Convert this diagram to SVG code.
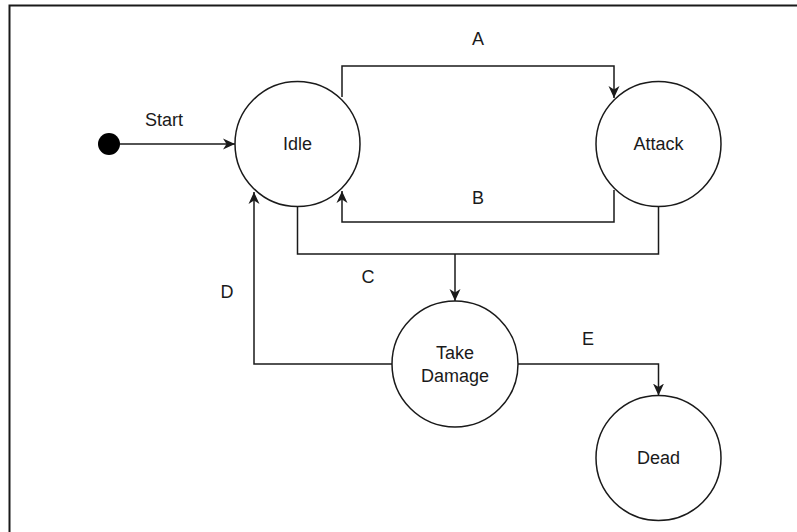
<svg xmlns="http://www.w3.org/2000/svg" width="797" height="532" viewBox="0 0 797 532">
<style>
.node{fill:#fff;stroke:#1a1a1a;stroke-width:1.5}
.edge{fill:none;stroke:#1a1a1a;stroke-width:1.5}
.lbl{font-family:"Liberation Sans",Arial,sans-serif;font-size:18px;fill:#1a1a1a;text-anchor:middle;dominant-baseline:central}
.nl{font-family:"Liberation Sans",Arial,sans-serif;font-size:18px;fill:#1a1a1a;text-anchor:middle;dominant-baseline:central}
</style>
<defs>
<marker id="arr" viewBox="0 0 12 12" refX="12" refY="6" markerWidth="12" markerHeight="12" markerUnits="userSpaceOnUse" orient="auto">
<path d="M0,0.5 L12,6 L0,11.5 L3.5,6 Z" fill="#1a1a1a"/>
</marker>
</defs>
<rect width="797" height="532" fill="#fff"/>
<path d="M9.5,532 V5.5 H797" fill="none" stroke="#1a1a1a" stroke-width="2"/>
<g id="connectors">
<path class="edge" d="M120,144 H235" marker-end="url(#arr)"/>
<path class="edge" d="M342,97 V66 H614 V98" marker-end="url(#arr)"/>
<path class="edge" d="M614,190 V222 H342 V191" marker-end="url(#arr)"/>
<path class="edge" d="M297.5,206.5 V254 H658.5 V206.5"/>
<path class="edge" d="M455,254 V301" marker-end="url(#arr)"/>
<path class="edge" d="M392,364 H254 V192" marker-end="url(#arr)"/>
<path class="edge" d="M518,364 H658.5 V395.5" marker-end="url(#arr)"/>
<text class="lbl" x="164" y="120">Start</text>
<text class="lbl" x="478" y="39">A</text>
<text class="lbl" x="478" y="198">B</text>
<text class="lbl" x="368" y="277">C</text>
<text class="lbl" x="227" y="292">D</text>
<text class="lbl" x="588" y="339">E</text>
</g>
<g id="start"><circle cx="109" cy="144" r="11" fill="#000"/></g>
<g id="idle"><circle class="node" cx="297.5" cy="144" r="62.5"/><text class="nl" x="297.5" y="144">Idle</text></g>
<g id="attack"><circle class="node" cx="658.5" cy="144" r="62.5"/><text class="nl" x="658.5" y="144">Attack</text></g>
<g id="takedamage"><circle class="node" cx="455" cy="364" r="63"/><text class="nl" x="455" y="353">Take</text><text class="nl" x="455" y="376">Damage</text></g>
<g id="dead"><circle class="node" cx="658.5" cy="458" r="62.5"/><text class="nl" x="658.5" y="458">Dead</text></g>
</svg>
